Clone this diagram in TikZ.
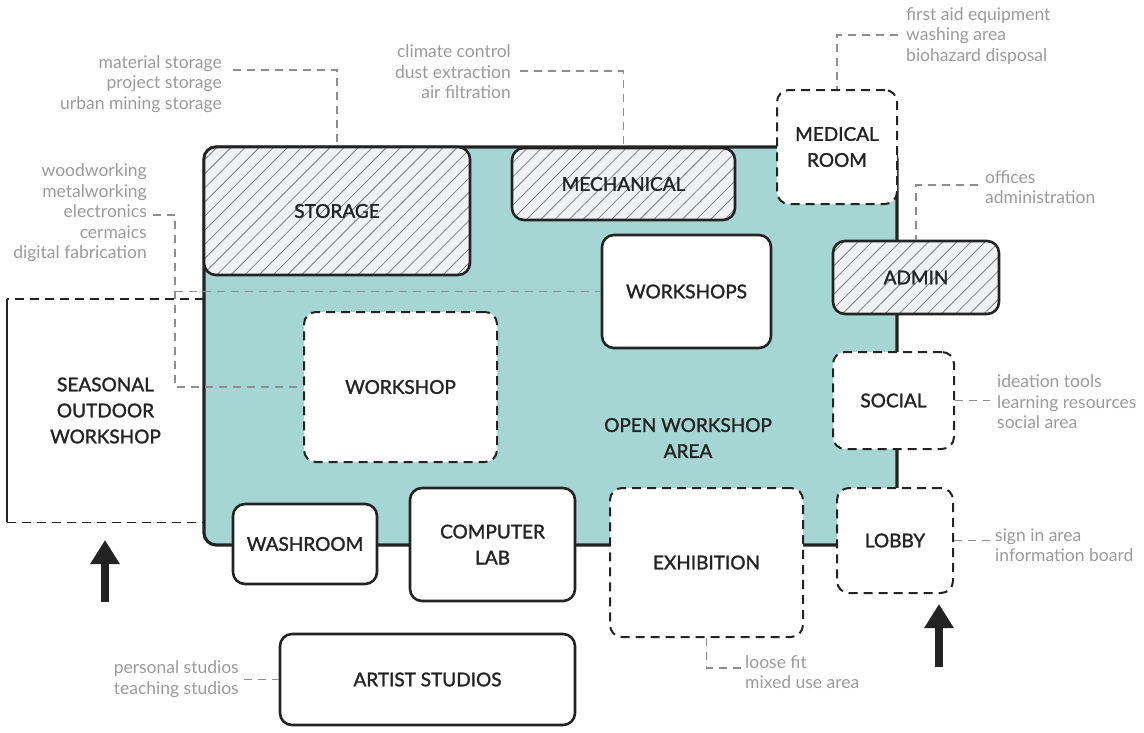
\documentclass[tikz,border=0pt]{standalone}
\usepackage{fontspec}
\setmainfont{Lato}
\newfontfamily\roomfont{Lato}[BoldFont=Lato, BoldFeatures={FakeBold=1.5}]
\usetikzlibrary{arrows.meta,patterns.meta}

\definecolor{ink}{HTML}{232323}
\definecolor{areateal}{HTML}{A5D6D4}
\definecolor{notegray}{HTML}{9A9A9A}
\definecolor{leadgray}{HTML}{8E8E8E}
\definecolor{hatchbg}{HTML}{EFF1F3}
\definecolor{hatchline}{HTML}{7C7C7C}

\begin{document}
\begin{tikzpicture}[x=1pt,y=-1pt,
  room/.style={draw=ink, line width=2.6pt, rounded corners=12pt, inner sep=0pt,
    align=center, text=ink, font=\roomfont\bfseries\fontsize{19}{26}\selectfont},
  solidroom/.style={room, fill=white},
  openroom/.style={room, fill=white, line width=2pt, dash pattern=on 9pt off 6pt},
  hatchroom/.style={room, preaction={fill=hatchbg},
    pattern={Lines[angle=45,distance=10pt,line width=0.8pt]}, pattern color=hatchline},
  note/.style={inner sep=0pt, text=notegray, font=\fontsize{17.5}{20.5}\selectfont},
  leader/.style={draw=leadgray, line width=1.3pt, dash pattern=on 8pt off 6pt},
  entry/.style={ink, line width=8pt, -{Triangle[width=28pt,length=24pt]}}
]
\useasboundingbox (0,0) rectangle (1144,732);

% outdoor zone, open on the right
\node[align=center, text=ink, font=\roomfont\bfseries\fontsize{19}{26}\selectfont,
  minimum width=197, minimum height=223] (outdoor) at (105.5,410.5)
  {SEASONAL\\OUTDOOR\\WORKSHOP};
\draw[draw=ink, line width=1.4pt, dash pattern=on 9pt off 6pt] (outdoor.north east) -- (outdoor.north west);
\draw[draw=ink, line width=1.4pt] (outdoor.north west) -- (outdoor.south west);
\draw[draw=ink, line width=1.4pt, dash pattern=on 9pt off 6pt] (outdoor.south west) -- (outdoor.south east);

% open workshop area
\filldraw[fill=areateal, draw=ink, line width=3.2pt, rounded corners=12pt] (204,147) rectangle (897,545);
\node[align=center, text=ink, font=\roomfont\bfseries\fontsize{19}{26}\selectfont] (openarea) at (688,438) {OPEN WORKSHOP\\AREA};

% rooms
\node[hatchroom, minimum width=266, minimum height=128] (storage) at (337,211) {STORAGE};
\node[hatchroom, minimum width=223, minimum height=72] (mech) at (623.5,184) {MECHANICAL};
\node[solidroom, minimum width=169, minimum height=113] (workshops) at (686.5,291.5) {WORKSHOPS};
\node[openroom, minimum width=193, minimum height=150] (workshop) at (400.5,387) {WORKSHOP};
\node[openroom, minimum width=120, minimum height=114] (medical) at (837,147) {MEDICAL\\ROOM};
\node[hatchroom, minimum width=166, minimum height=73] (admin) at (916,277.5) {ADMIN};
\node[openroom, minimum width=121, minimum height=97] (social) at (893.5,400.5) {SOCIAL};
\node[openroom, minimum width=116, minimum height=105] (lobby) at (895,540.5) {LOBBY};
\node[openroom, minimum width=193, minimum height=149] (exhibit) at (706.5,562.5) {EXHIBITION};
\node[solidroom, minimum width=165, minimum height=113] (complab) at (492.5,544.5) {COMPUTER\\LAB};
\node[solidroom, minimum width=144, minimum height=80] (washroom) at (305,544) {WASHROOM};
\node[solidroom, minimum width=295, minimum height=91] (artist) at (427.5,679.5) {ARTIST STUDIOS};

% notes
\node[note, anchor=east, align=right] (stornote) at (222,84) {material storage\\project storage\\urban mining storage};
\node[note, anchor=east, align=right] (mechnote) at (511,72) {climate control\\dust extraction\\air filtration};
\node[note, anchor=west, align=left] (mednote) at (906,36) {first aid equipment\\washing area\\biohazard disposal};
\node[note, anchor=west, align=left] (adminnote) at (985,187) {offices\\administration};
\node[note, anchor=east, align=right] (wknote) at (147,213) {woodworking\\metalworking\\electronics\\cermaics\\digital fabrication};
\node[note, anchor=west, align=left] (socnote) at (997,402) {ideation tools\\learning resources\\social area};
\node[note, anchor=west, align=left] (lobnote) at (995,545) {sign in area\\information board};
\node[note, anchor=west, align=left] (exnote) at (745,672) {loose fit\\mixed use area};
\node[note, anchor=east, align=right] (artnote) at (239,679) {personal studios\\teaching studios};

\coordinate (storlead) at (233,70);
\coordinate (mechlead) at (520,71);
\coordinate (medlead) at (898,35);
\coordinate (adminlead) at (978,185);
\coordinate (wklead) at (153,215);
\coordinate (wkbend) at (175,387);
\coordinate (soclead) at (990,400.5);
\coordinate (loblead) at (990,540.5);
\coordinate (exlead) at (741,668);
\coordinate (artlead) at (244,679.5);

\draw[leader] (storlead) -| (storage.north);
\draw[leader] (mechlead) -| (mech.north);
\draw[leader] (medlead) -| (medical.north);
\draw[leader] (adminlead) -| (admin.north);
\draw[leader] (wklead) -| (wkbend) -- (workshop.west);
\draw[leader] (wkbend |- workshops.west) -- (workshops.west);
\draw[leader] (social.east) -- (soclead);
\draw[leader] (lobby.east) -- (loblead);
\draw[leader] (exhibit.south) |- (exlead);
\draw[leader] (artlead) -- (artist.west);

% entrances
\coordinate (westdoor) at (105,540);
\coordinate (eastdoor) at (939,604);
\draw[entry] (105,602) -- (westdoor);
\draw[entry] (939,667) -- (eastdoor);

\end{tikzpicture}
\end{document}
